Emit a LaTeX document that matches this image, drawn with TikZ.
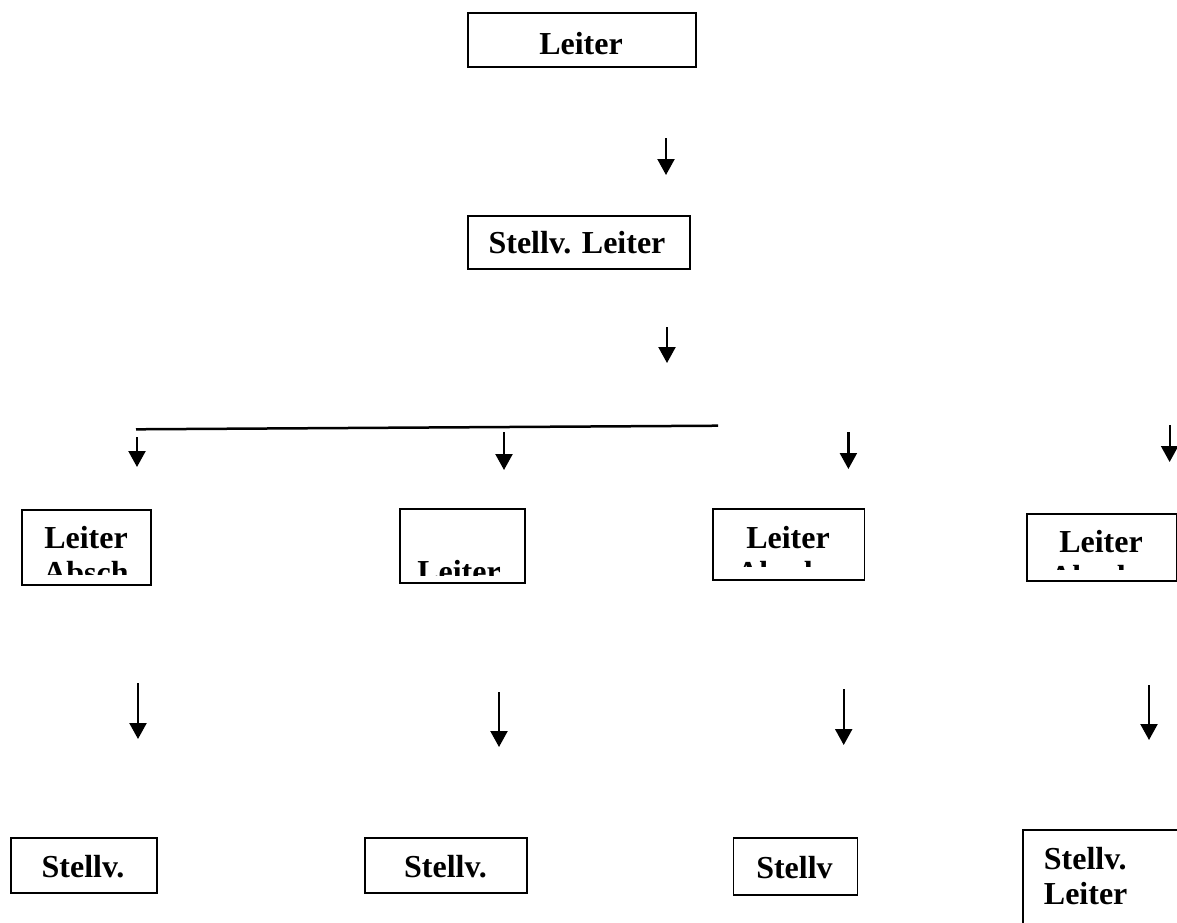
\documentclass[tikz,border=0pt]{standalone}
\usepackage{fontspec}
\setmainfont{Liberation Serif}
\usetikzlibrary{arrows.meta}
\begin{document}
\begin{tikzpicture}[x=1pt,y=-1pt,
  box/.style={draw, line width=1.5pt, inner sep=0pt, anchor=north west},
  lbl/.style={font=\fontsize{32}{36}\selectfont\bfseries, inner sep=0pt, anchor=base},
  lbll/.style={font=\fontsize{32}{36}\selectfont\bfseries, inner sep=0pt, anchor=base west},
  arr/.style={line width=2.2pt, -{Triangle[width=17pt,length=16pt]}}]
\useasboundingbox[fill=white] (0,0) rectangle (1177,922);

% top boxes
\node[box, minimum width=228pt, minimum height=54pt] (bTop) at (467,12) {};
\node[lbl] (tTop) at (581,54) {Leiter};
\node[box, minimum width=222pt, minimum height=53pt] (bSt) at (467,215) {};
\node[lbl] (tSt) at (577,253) {Stellv. Leiter};

% arrows top
\coordinate (a1s) at (666,138); \coordinate (a1e) at (666,175);
\coordinate (a2s) at (667,327); \coordinate (a2e) at (667,363);
\draw[arr] (a1s) -- (a1e);
\draw[arr] (a2s) -- (a2e);

% horizontal bar
\coordinate (hL) at (136,429.3); \coordinate (hR) at (718,425.7);
\draw[line width=2.5pt] (hL) -- (hR);

% row 3 arrows
\coordinate (rAs) at (137,437); \coordinate (rAe) at (137,467);
\coordinate (rBs) at (504,432); \coordinate (rBe) at (504,470);
\coordinate (rCs) at (848.4,432); \coordinate (rCe) at (848.4,469);
\coordinate (rDs) at (1169.6,425); \coordinate (rDe) at (1169.6,462);
\draw[arr] (rAs) -- (rAe);
\draw[arr] (rBs) -- (rBe);
\draw[arr] (rCs) -- (rCe);
\draw[arr] (rDs) -- (rDe);

% row 3 boxes
\node[box, minimum width=129pt, minimum height=75pt] (bA) at (21,509) {};
\node[box, minimum width=125pt, minimum height=74pt] (bB) at (399,508) {};
\node[box, minimum width=151.5pt, minimum height=71pt] (bC) at (712,508) {};
\node[box, minimum width=150pt, minimum height=67pt] (bD) at (1026,513) {};

\begin{scope}
\clip (21,509) rectangle (150,574);
\node[lbl] (tA) at (86,548) {Leiter};
\node[lbl] (tA2) at (86,583) {Absch};
\end{scope}
\begin{scope}
\clip (399,508) rectangle (524,575);
\node[lbl] (tB) at (459,582) {Leiter};
\end{scope}
\begin{scope}
\clip (712,508) rectangle (863.5,566);
\node[lbl] (tC) at (788,548) {Leiter};
\node[lbl] (tC2) at (788,583) {Abschn};
\end{scope}
\begin{scope}
\clip (1026,513) rectangle (1176,569);
\node[lbl] (tD) at (1101,552) {Leiter};
\node[lbl] (tD2) at (1101,587) {Abschn};
\end{scope}

% row 4 arrows
\coordinate (sAs) at (138,683); \coordinate (sAe) at (138,739);
\coordinate (sBs) at (499,692); \coordinate (sBe) at (499,747);
\coordinate (sCs) at (843.7,689); \coordinate (sCe) at (843.7,745);
\coordinate (sDs) at (1149,685); \coordinate (sDe) at (1149,740);
\draw[arr] (sAs) -- (sAe);
\draw[arr] (sBs) -- (sBe);
\draw[arr] (sCs) -- (sCe);
\draw[arr] (sDs) -- (sDe);

% row 5 boxes
\node[box, minimum width=146pt, minimum height=55pt] (bE) at (10,837) {};
\node[lbl] (tE) at (83,877) {Stellv.};
\node[box, minimum width=162pt, minimum height=55pt] (bF) at (364,837) {};
\node[lbl] (tF) at (445.5,877) {Stellv.};
\node[box, minimum width=124pt, minimum height=57pt] (bG) at (732.5,837) {};
\node[lbl] (tG) at (794.5,878) {Stellv};
\node[box, draw=none, minimum width=260pt, minimum height=160pt] (bH) at (1023,830) {};
\draw[line width=1.5pt] (bH.north east) -- (bH.north west) -- (bH.south west);
\node[lbll] (tH1) at (1043.7,869) {Stellv.};
\node[lbll] (tH2) at (1043.7,904) {Leiter};
\end{tikzpicture}
\end{document}
